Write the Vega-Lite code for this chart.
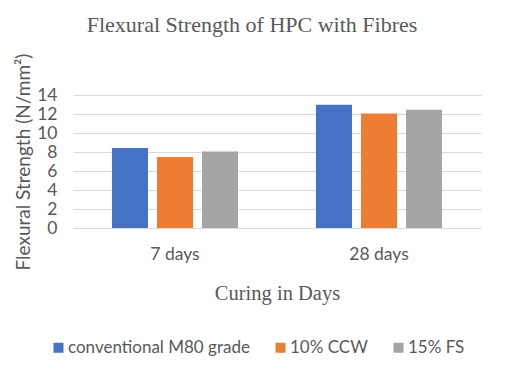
{
  "$schema": "https://vega.github.io/schema/vega-lite/v6.json",
  "width": 408,
  "height": 133,
  "autosize": {"type": "none"},
  "padding": {"left": 73, "top": 95, "right": 24, "bottom": 152},
  "background": "white",
  "title": {
    "text": "Flexural Strength of HPC with Fibres",
    "font": "Liberation Serif",
    "fontSize": 22,
    "fontWeight": "normal",
    "color": "#595959",
    "anchor": "middle",
    "dx": -25,
    "offset": -1,
    "baseline": "alphabetic"
  },
  "data": {
    "values": [
      {"curing": "7 days", "mix": "conventional M80 grade", "strength": 8.42},
      {"curing": "7 days", "mix": "10% CCW", "strength": 7.47},
      {"curing": "7 days", "mix": "15% FS", "strength": 8.06},
      {"curing": "28 days", "mix": "conventional M80 grade", "strength": 12.98},
      {"curing": "28 days", "mix": "10% CCW", "strength": 12.06},
      {"curing": "28 days", "mix": "15% FS", "strength": 12.45}
    ]
  },
  "mark": {"type": "bar"},
  "encoding": {
    "x": {
      "field": "curing",
      "type": "nominal",
      "sort": ["7 days", "28 days"],
      "scale": {"paddingInner": 0.382, "paddingOuter": 0.191},
      "title": "Curing in Days",
      "axis": {
        "labelAngle": 0,
        "labelFont": "Lato",
        "labelFontSize": 17.5,
        "labelColor": "#595959",
        "labelPadding": 17,
        "ticks": false,
        "tickSize": 0,
        "domain": false,
        "titleFont": "Liberation Serif",
        "titleFontSize": 20.5,
        "titleFontWeight": "normal",
        "titleColor": "#595959",
        "titlePadding": 21
      }
    },
    "xOffset": {
      "field": "mix",
      "type": "nominal",
      "sort": ["conventional M80 grade", "10% CCW", "15% FS"],
      "scale": {"paddingInner": 0.2, "paddingOuter": 0}
    },
    "y": {
      "field": "strength",
      "type": "quantitative",
      "scale": {"domain": [0, 14], "nice": false},
      "title": "Flexural Strength (N/mm²)",
      "axis": {
        "values": [0, 2, 4, 6, 8, 10, 12, 14],
        "labelFont": "Lato",
        "labelFontSize": 17.5,
        "labelColor": "#595959",
        "labelPadding": 16,
        "ticks": false,
        "tickSize": 0,
        "domain": false,
        "gridColor": "#d9d9d9",
        "gridWidth": 1,
        "titleFont": "Lato",
        "titleFontSize": 19,
        "titleFontWeight": "normal",
        "titleColor": "#595959",
        "titlePadding": 3,
        "titleLimit": 300
      }
    },
    "color": {
      "field": "mix",
      "type": "nominal",
      "sort": ["conventional M80 grade", "10% CCW", "15% FS"],
      "scale": {
        "domain": ["conventional M80 grade", "10% CCW", "15% FS"],
        "range": ["#4472C4", "#ED7D31", "#A5A5A5"]
      },
      "legend": {
        "title": null,
        "orient": "none",
        "legendX": -23,
        "legendY": 244,
        "direction": "horizontal",
        "symbolType": "square",
        "symbolSize": 100,
        "symbolStrokeWidth": 0,
        "labelFont": "Lato",
        "labelFontSize": 17,
        "labelColor": "#595959",
        "labelOffset": 1,
        "labelLimit": 400,
        "columnPadding": 22
      }
    }
  },
  "config": {"view": {"stroke": null}}
}
